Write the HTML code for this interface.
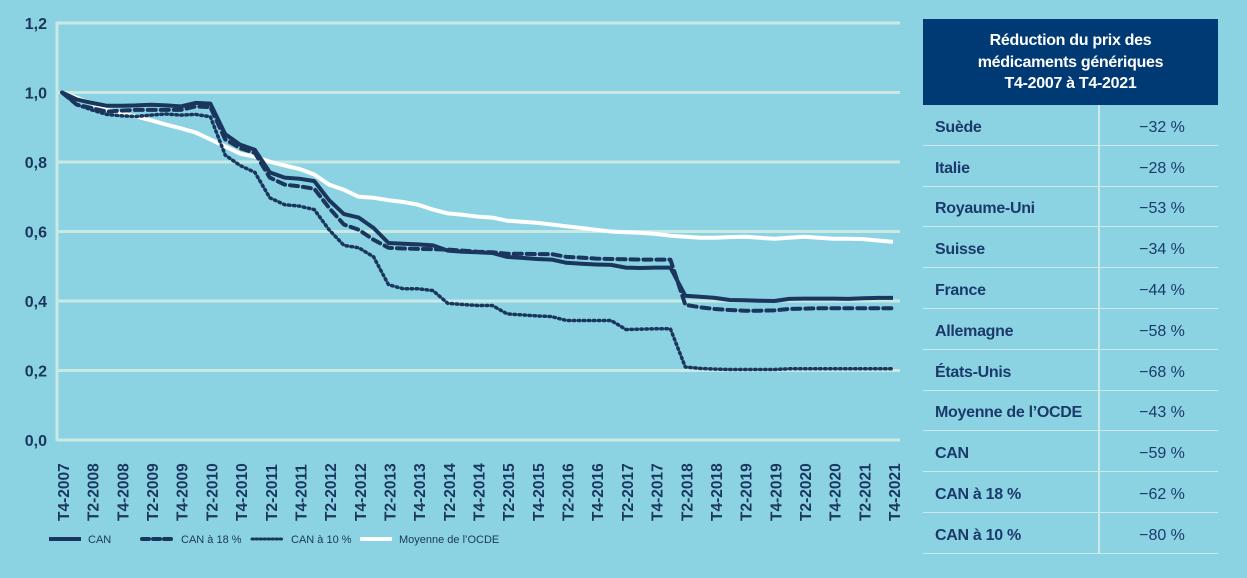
<!DOCTYPE html>
<html><head><meta charset="utf-8">
<style>
body{margin:0;width:1247px;height:578px;background:#8bd3e2;font-family:"Liberation Sans",sans-serif;overflow:hidden;position:relative}
svg{position:absolute;left:0;top:0}
#tbl{position:absolute;left:923px;top:19px;width:295px;color:#1b3a6b}
.hd{background:#003a75;color:#fff;font-weight:bold;font-size:16px;text-align:center;line-height:21.5px;height:86px;box-sizing:border-box;padding-top:11px;letter-spacing:-0.3px}
.row{display:flex;height:40.8px;border-bottom:1.5px solid #cdeaea;box-sizing:border-box;align-items:center}
.c1{width:177px;border-right:2px solid #cdeaea;height:100%;display:flex;align-items:center;padding-left:12px;padding-top:6px;box-sizing:border-box;font-weight:bold;font-size:16px;letter-spacing:-0.3px}
.c2{flex:1;text-align:center;font-size:16px;padding-left:6px;padding-top:6px}
</style></head><body>
<svg id="chart" width="910" height="578"></svg>
<div id="tbl">
<div class="hd">Réduction du prix des<br>médicaments génériques<br>T4-2007 à T4-2021</div>
<div class="row"><div class="c1">Suède</div><div class="c2">−32 %</div></div>
<div class="row"><div class="c1">Italie</div><div class="c2">−28 %</div></div>
<div class="row"><div class="c1">Royaume-Uni</div><div class="c2">−53 %</div></div>
<div class="row"><div class="c1">Suisse</div><div class="c2">−34 %</div></div>
<div class="row"><div class="c1">France</div><div class="c2">−44 %</div></div>
<div class="row"><div class="c1">Allemagne</div><div class="c2">−58 %</div></div>
<div class="row"><div class="c1">États-Unis</div><div class="c2">−68 %</div></div>
<div class="row"><div class="c1">Moyenne de l’OCDE</div><div class="c2">−43 %</div></div>
<div class="row"><div class="c1">CAN</div><div class="c2">−59 %</div></div>
<div class="row"><div class="c1">CAN à 18 %</div><div class="c2">−62 %</div></div>
<div class="row"><div class="c1">CAN à 10 %</div><div class="c2">−80 %</div></div>
</div>
<script>
const xLabels=["T4-2007","T2-2008","T4-2008","T2-2009","T4-2009","T2-2010","T4-2010","T2-2011","T4-2011","T2-2012","T4-2012","T2-2013","T4-2013","T2-2014","T4-2014","T2-2015","T4-2015","T2-2016","T4-2016","T2-2017","T4-2017","T2-2018","T4-2018","T2-2019","T4-2019","T2-2020","T4-2020","T2-2021","T4-2021"];
const yTicks=[0,0.2,0.4,0.6,0.8,1.0,1.2];
const can=[1.0,0.98,0.97,0.962,0.962,0.963,0.965,0.963,0.96,0.97,0.968,0.88,0.85,0.835,0.77,0.755,0.752,0.745,0.69,0.65,0.64,0.61,0.567,0.565,0.563,0.56,0.545,0.542,0.54,0.538,0.527,0.524,0.521,0.519,0.51,0.507,0.505,0.504,0.496,0.495,0.496,0.496,0.415,0.412,0.409,0.403,0.402,0.401,0.40,0.406,0.407,0.407,0.407,0.406,0.408,0.409,0.409];
const can18=[1.0,0.965,0.955,0.945,0.948,0.95,0.95,0.95,0.95,0.96,0.958,0.865,0.84,0.826,0.755,0.735,0.73,0.723,0.668,0.62,0.605,0.576,0.553,0.551,0.55,0.549,0.548,0.545,0.542,0.54,0.536,0.536,0.535,0.535,0.527,0.525,0.522,0.521,0.52,0.519,0.519,0.519,0.389,0.382,0.377,0.374,0.372,0.372,0.373,0.377,0.378,0.379,0.379,0.379,0.379,0.379,0.379];
const can10=[1.0,0.965,0.95,0.937,0.933,0.931,0.935,0.938,0.935,0.937,0.93,0.82,0.79,0.77,0.697,0.677,0.673,0.663,0.605,0.56,0.553,0.527,0.447,0.435,0.435,0.43,0.393,0.39,0.387,0.387,0.363,0.36,0.357,0.355,0.344,0.344,0.344,0.344,0.318,0.319,0.32,0.32,0.21,0.206,0.204,0.203,0.203,0.203,0.203,0.205,0.205,0.205,0.205,0.205,0.205,0.205,0.205];
const ocde=[1.0,0.985,0.968,0.951,0.94,0.931,0.92,0.908,0.897,0.885,0.865,0.845,0.824,0.815,0.801,0.79,0.78,0.764,0.735,0.72,0.70,0.697,0.69,0.685,0.677,0.663,0.652,0.648,0.643,0.64,0.631,0.628,0.625,0.62,0.615,0.61,0.605,0.6,0.598,0.596,0.593,0.588,0.585,0.582,0.582,0.584,0.585,0.582,0.579,0.582,0.585,0.582,0.579,0.579,0.578,0.574,0.57];
const NS="http://www.w3.org/2000/svg";
const svg=document.getElementById('chart');
const x0=62,x1=893,yB=440,yT=23;
const xq=i=>x0+(x1-x0)*i/(can.length-1);
const y=v=>yB-(yB-yT)*v/1.2;
function mk(t,a){const e=document.createElementNS(NS,t);for(const k in a)e.setAttribute(k,a[k]);svg.appendChild(e);return e;}
yTicks.forEach(v=>{
 const g=mk('line',{x1:57,x2:900,y1:y(v),y2:y(v),stroke:'#c9e9e5','stroke-width':3});
 
 
 const t=mk('text',{x:47,y:y(v)+6,'text-anchor':'end','font-size':16,'font-weight':'bold',fill:'#1b365d'});
 t.textContent=v.toFixed(1).replace('.',',');
 
 
});
const ax=mk('line',{x1:57,x2:57,y1:yT-1,y2:yB+1,stroke:'#c9e9e5','stroke-width':3});


xLabels.forEach((l,k)=>{
 const xx=xq(k*2)+1;
 const t=mk('text',{transform:`translate(${xx+6},521) rotate(-90)`,'font-size':15.5,'font-weight':'bold',fill:'#1b365d'});
 t.textContent=l;
 
 
});
function series(d,name,attrs){
 const p=mk('path',Object.assign({d:d.map((v,i)=>(i?'L':'M')+xq(i).toFixed(1)+','+y(v).toFixed(1)).join(''),fill:'none','stroke-linejoin':'round'},attrs));
 
 
}
series(ocde,'line-ocde',{stroke:'#ffffff','stroke-width':4});
series(can10,'line-can-10',{stroke:'#1b365d','stroke-width':3.5,'stroke-dasharray':'1.5 3.5','stroke-linecap':'round'});
series(can18,'line-can-18',{stroke:'#1b365d','stroke-width':4,'stroke-dasharray':'8 5','stroke-linecap':'round'});
series(can,'line-can',{stroke:'#1b365d','stroke-width':4});
const leg=[['CAN',{stroke:'#1b365d','stroke-width':4},55],['CAN à 18 %',{stroke:'#1b365d','stroke-width':4,'stroke-dasharray':'7 4','stroke-linecap':'round'},148],['CAN à 10 %',{stroke:'#1b365d','stroke-width':3,'stroke-dasharray':'1.5 2.5','stroke-linecap':'round'},258],['Moyenne de l’OCDE',{stroke:'#ffffff','stroke-width':4},366]];
leg.forEach(([n,a,lx])=>{
 const l=mk('line',Object.assign({x1:lx-6,x2:lx+26,y1:539,y2:539},a));
 
 
 const t=mk('text',{x:lx+33,y:543,'font-size':11,fill:'#1b365d'});
 t.textContent=n;
 
 
});
</script>
</body></html>
